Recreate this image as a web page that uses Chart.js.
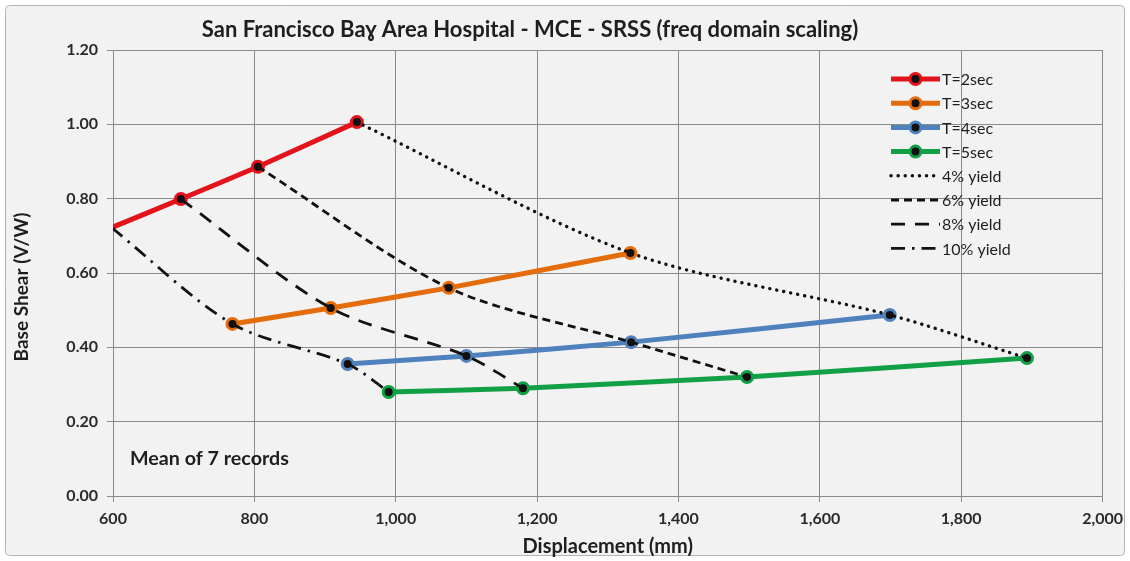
<!DOCTYPE html>
<html>
<head>
<meta charset="utf-8">
<script src="https://cdn.jsdelivr.net/npm/chart.js@4/dist/chart.umd.min.js"></script>
<style>
  html, body { margin: 0; padding: 0; background: #ffffff; }
  #wrap { width: 1130px; height: 561px; }
</style>
</head>
<body>
<div id="wrap"><canvas id="c" width="1130" height="561"></canvas></div>
<script>
// Displacement (mm) and base shear (V/W) per fundamental period
const disp2  = [598, 696, 805, 945];
const shear2 = [0.722, 0.799, 0.886, 1.006];
const disp3  = [769, 908, 1075, 1332];
const shear3 = [0.463, 0.506, 0.560, 0.654];
const disp4  = [932, 1100, 1333, 1699];
const shear4 = [0.355, 0.377, 0.414, 0.487];
const disp5  = [990, 1180, 1497, 1893];
const shear5 = [0.280, 0.290, 0.320, 0.371];

// Constant-ductility (yield drift) curves joining the period lines
const disp4pct   = [945, 1332, 1699, 1893];
const shear4pct  = [1.006, 0.654, 0.487, 0.371];
const disp6pct   = [805, 1075, 1333, 1497];
const shear6pct  = [0.886, 0.560, 0.414, 0.320];
const disp8pct   = [696, 908, 1100, 1180];
const shear8pct  = [0.799, 0.506, 0.377, 0.290];
const disp10pct  = [598, 769, 932, 990];
const shear10pct = [0.722, 0.463, 0.355, 0.280];

const seriesLabels = ['T=2sec', 'T=3sec', 'T=4sec', 'T=5sec', '4% yield', '6% yield', '8% yield', '10% yield'];
const xTicks = [600, 800, 1000, 1200, 1400, 1600, 1800, 2000];
const yTicks = [0, 0.2, 0.4, 0.6, 0.8, 1.0, 1.2];

const FONT = 'Lato, "Open Sans", "DejaVu Sans", sans-serif';
const X_MIN = xTicks[0], X_MAX = xTicks[xTicks.length - 1];

function pts(xs, ys) { return xs.map((x, i) => ({ x: x, y: ys[i] })); }

function periodSet(label, xs, ys, color) {
  return {
    label: label, data: pts(xs, ys),
    borderColor: color, backgroundColor: color,
    borderWidth: 5, tension: 0.15,
    // markers only for points inside the axis range
    pointRadius: c => (c.raw && (c.raw.x < X_MIN || c.raw.x > X_MAX)) ? 0 : 5.5,
    legendRadius: 5.5,
    pointBorderWidth: 3,
    pointBackgroundColor: '#111111', pointBorderColor: color,
    order: 2
  };
}
function yieldSet(label, xs, ys, dash, width, cap) {
  return {
    label: label, data: pts(xs, ys),
    borderColor: '#111111', backgroundColor: '#111111',
    borderWidth: width, borderDash: dash, borderCapStyle: cap || 'butt',
    tension: 0.3, pointRadius: 0, legendRadius: 0, order: 1
  };
}

const datasets = [
  periodSet(seriesLabels[0], disp2, shear2, '#e3121b'),
  periodSet(seriesLabels[1], disp3, shear3, '#e46c0a'),
  periodSet(seriesLabels[2], disp4, shear4, '#4f81bd'),
  periodSet(seriesLabels[3], disp5, shear5, '#12a046'),
  yieldSet(seriesLabels[4], disp4pct, shear4pct, [0.1, 7], 3.4, 'round'),
  yieldSet(seriesLabels[5], disp6pct, shear6pct, [8, 5], 2.8),
  yieldSet(seriesLabels[6], disp8pct, shear8pct, [14, 10], 2.8),
  yieldSet(seriesLabels[7], disp10pct, shear10pct, [14, 7, 2.5, 7], 2.8)
];

// Frame, titles, note and legend drawn on the canvas
const decor = {
  id: 'decor',
  beforeDraw(chart) {
    const ctx = chart.ctx;
    ctx.save();
    ctx.fillStyle = '#ffffff';
    ctx.fillRect(0, 0, chart.width, chart.height);
    ctx.beginPath();
    ctx.roundRect(5.5, 5.5, 1119, 550, 4);
    ctx.fillStyle = '#f2f2f2';
    ctx.fill();
    ctx.strokeStyle = '#b4b4b4';
    ctx.lineWidth = 1;
    ctx.stroke();
    ctx.restore();
  },
  afterDraw(chart) {
    const ctx = chart.ctx;
    ctx.save();
    ctx.fillStyle = '#1e1e1e';
    ctx.textBaseline = 'middle';
    ctx.textAlign = 'center';
    ctx.font = 'bold 22px ' + FONT;
    ctx.fillText('San Francisco Ba\u0263 Area Hospital - MCE - SRSS (freq domain scaling)', 530, 30);

    // vertical axis title
    ctx.save();
    ctx.translate(22, 287);
    ctx.rotate(-Math.PI / 2);
    ctx.font = 'bold 19px ' + FONT;
    ctx.fillText('Base Shear (V/W)', 0, 0);
    ctx.restore();

    ctx.textAlign = 'left';
    ctx.font = 'bold 19.7px ' + FONT;
    ctx.fillText('Mean of 7 records', 130, 459);

    // legend
    const x0 = 891, x1 = 940, tx = 942, y0 = 79, dy = 24.2;
    chart.data.datasets.forEach((ds, i) => {
      const y = y0 + i * dy;
      ctx.beginPath();
      ctx.setLineDash(ds.borderDash || []);
      ctx.lineCap = ds.borderCapStyle || 'butt';
      ctx.lineWidth = ds.borderWidth;
      ctx.strokeStyle = ds.borderColor;
      ctx.moveTo(x0, y); ctx.lineTo(x1, y);
      ctx.stroke();
      ctx.setLineDash([]);
      ctx.lineCap = 'butt';
      if (ds.legendRadius > 0) {
        ctx.beginPath();
        ctx.arc((x0 + x1) / 2, y, ds.legendRadius, 0, Math.PI * 2);
        ctx.fillStyle = ds.pointBackgroundColor;
        ctx.fill();
        ctx.lineWidth = ds.pointBorderWidth;
        ctx.strokeStyle = ds.pointBorderColor;
        ctx.stroke();
      }
      ctx.fillStyle = '#1e1e1e';
      ctx.font = '16px ' + FONT;
      ctx.fillText(ds.label, tx, y + 1);
    });
    ctx.restore();
  }
};

new Chart(document.getElementById('c'), {
  type: 'line',
  data: { datasets: datasets },
  plugins: [decor],
  options: {
    responsive: false,
    animation: false,
    devicePixelRatio: 1,
    layout: { padding: { top: 50, right: 26, left: 0, bottom: 0 } },
    plugins: { legend: { display: false }, tooltip: { enabled: false }, title: { display: false } },
    scales: {
      x: {
        type: 'linear', min: X_MIN, max: X_MAX,
        afterBuildTicks(scale) { scale.ticks = xTicks.map(v => ({ value: v })); },
        afterFit(scale) { scale.height = 65; },
        ticks: {
          color: '#2a2a2a', padding: 7,
          font: { family: FONT, size: 16, weight: 'bold' },
          callback: v => v.toLocaleString('en-US')
        },
        grid: { color: '#8a8a8a', lineWidth: 1, tickLength: 6 },
        border: { display: true, color: '#8a8a8a' },
        title: {
          display: true, text: 'Displacement (mm)', color: '#1e1e1e',
          font: { family: FONT, size: 20, weight: 'bold' },
          padding: { top: 0, bottom: 2 }
        }
      },
      y: {
        type: 'linear', min: yTicks[0], max: yTicks[yTicks.length - 1],
        afterBuildTicks(scale) { scale.ticks = yTicks.map(v => ({ value: v })); },
        afterFit(scale) { scale.width = 113; },
        ticks: {
          color: '#2a2a2a', padding: 9,
          font: { family: FONT, size: 16, weight: 'bold' },
          callback: v => Number(v).toFixed(2)
        },
        grid: { color: '#8a8a8a', lineWidth: 1, tickLength: 6 },
        border: { display: true, color: '#8a8a8a' },
        title: { display: false }
      }
    }
  }
});
</script>
</body>
</html>
